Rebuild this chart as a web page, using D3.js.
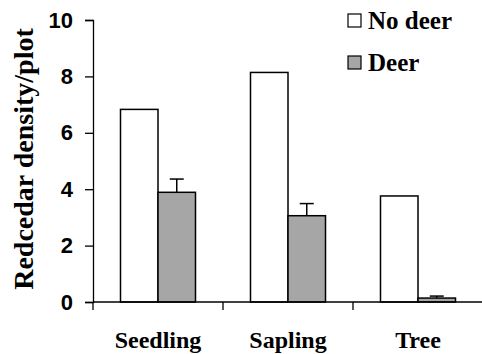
<!DOCTYPE html>
<html>
<head>
<meta charset="utf-8">
<script src="https://cdn.jsdelivr.net/npm/d3@7"></script>
<style>
  html, body { margin: 0; padding: 0; background: #fff; }
  svg { display: block; }
</style>
</head>
<body>
<svg id="chart" width="482" height="354"></svg>
<script>
// Redcedar density per plot by size class, with and without deer
const categories = ["Seedling", "Sapling", "Tree"];
const seriesNames = ["No deer", "Deer"];
const noDeer = [6.83, 8.14, 3.76];
const deer = [3.89, 3.06, 0.14];
const deerErr = [0.47, 0.43, 0.07];
const yTicks = [0, 2, 4, 6, 8, 10];

const svg = d3.select("#chart");
const plotLeft = 93, plotRight = 483, plotTop = 20, plotBottom = 302;

const x = d3.scaleBand().domain(categories).range([plotLeft, plotRight]).paddingInner(0).paddingOuter(0);
const inner = d3.scaleBand().domain(seriesNames).range([27.5, x.bandwidth() - 27.5]);
const y = d3.scaleLinear().domain([0, 10]).range([plotBottom, plotTop]);

const fills = { "No deer": "#ffffff", "Deer": "#a6a6a6" };
const sans = '"Liberation Sans"';
const serif = '"Liberation Serif"';

// Y axis
const yAxis = svg.append("g")
  .attr("transform", `translate(${plotLeft},0)`)
  .call(d3.axisLeft(y).tickValues(yTicks).tickSize(8).tickPadding(12).tickFormat(d3.format("d")));
yAxis.select(".domain").attr("stroke", "#000").attr("stroke-width", 1.3);
yAxis.selectAll(".tick line").attr("stroke", "#000").attr("stroke-width", 1.3);
yAxis.selectAll(".tick text")
  .style("font-family", sans).style("font-weight", "bold").style("font-size", "22px").attr("fill", "#000");

// Bars
const rows = categories.map((c, i) => [
  { cat: c, s: "No deer", v: noDeer[i], e: null },
  { cat: c, s: "Deer", v: deer[i], e: deerErr[i] }
]).flat();

// Error bars (drawn under bars so only the upper half shows)
const err = svg.append("g");
rows.filter(d => d.e != null).forEach(d => {
  const cx = x(d.cat) + inner(d.s) + inner.bandwidth() / 2;
  err.append("line")
    .attr("x1", cx).attr("x2", cx)
    .attr("y1", y(d.v)).attr("y2", y(d.v + d.e))
    .attr("stroke", "#000").attr("stroke-width", 1.5);
  err.append("line")
    .attr("x1", cx - 7).attr("x2", cx + 7)
    .attr("y1", y(d.v + d.e)).attr("y2", y(d.v + d.e))
    .attr("stroke", "#000").attr("stroke-width", 1.5);
});

svg.append("g").selectAll("rect")
  .data(rows)
  .join("rect")
  .attr("x", d => x(d.cat) + inner(d.s))
  .attr("y", d => y(d.v))
  .attr("width", inner.bandwidth())
  .attr("height", d => y(0) - y(d.v))
  .attr("fill", d => fills[d.s])
  .attr("stroke", "#000")
  .attr("stroke-width", 1.5);

// X axis
const xAxis = svg.append("g")
  .attr("transform", `translate(0,${plotBottom})`);
xAxis.append("line")
  .attr("x1", plotLeft).attr("x2", plotRight)
  .attr("y1", 0).attr("y2", 0)
  .attr("stroke", "#000").attr("stroke-width", 1.3);
xAxis.selectAll("line.sep")
  .data(categories)
  .join("line")
  .attr("class", "sep")
  .attr("x1", d => x(d)).attr("x2", d => x(d))
  .attr("y1", 0).attr("y2", 8)
  .attr("stroke", "#000").attr("stroke-width", 1.3);
xAxis.selectAll("text")
  .data(categories)
  .join("text")
  .attr("x", d => x(d) + x.bandwidth() / 2)
  .attr("y", 46)
  .attr("text-anchor", "middle")
  .style("font-family", serif).style("font-weight", "bold").style("font-size", "24px")
  .text(d => d);

// Y axis title
svg.append("text")
  .attr("transform", `translate(33,${(plotTop + plotBottom) / 2 - 2}) rotate(-90)`)
  .attr("text-anchor", "middle")
  .style("font-family", serif).style("font-weight", "bold").style("font-size", "28px")
  .text("Redcedar density/plot");

// Legend
const legend = svg.append("g").attr("transform", "translate(348,14)");
seriesNames.forEach((s, i) => {
  const g = legend.append("g").attr("transform", `translate(0,${i * 42})`);
  g.append("rect").attr("x", 0).attr("y", 0).attr("width", 13).attr("height", 13)
    .attr("fill", fills[s]).attr("stroke", "#000").attr("stroke-width", 1.2);
  g.append("text").attr("x", 20).attr("y", 15)
    .style("font-family", serif).style("font-weight", "bold").style("font-size", "25px")
    .text(s);
});
</script>
</body>
</html>
